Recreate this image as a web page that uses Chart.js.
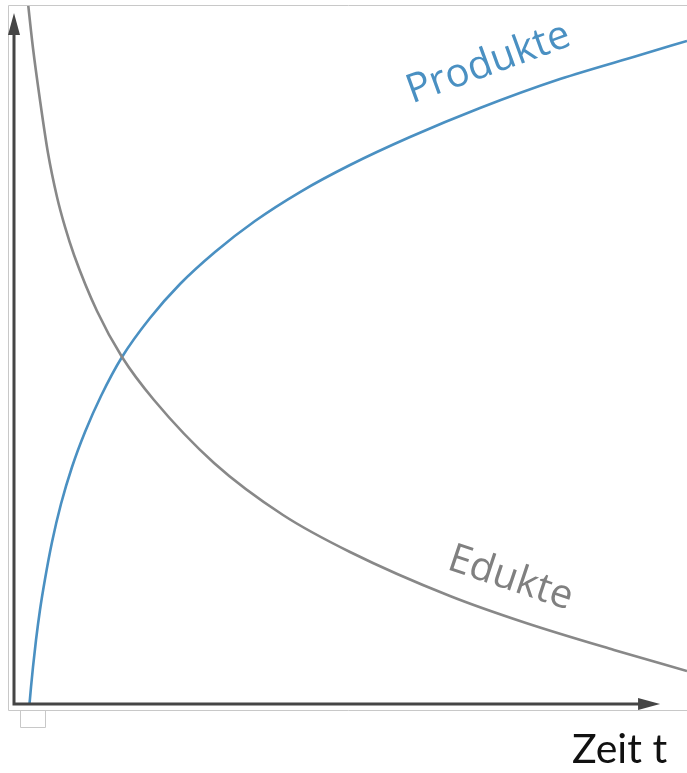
<!DOCTYPE html>
<html>
<head>
<meta charset="utf-8">
<script src="https://cdn.jsdelivr.net/npm/chart.js@4.4.1/dist/chart.umd.min.js"></script>
<style>
  body { margin: 0; background: #fff; }
  #wrap { width: 687px; height: 773px; }
</style>
</head>
<body>
<div id="wrap"><canvas id="myChart" width="687" height="773"></canvas></div>
<script>
// Zeit t (0..100) und Konzentration (0..100)
var produkteT = [2.30, 2.53, 2.82, 3.27, 3.86, 4.61, 5.65, 6.98, 8.62, 10.55, 12.93, 16.05, 20.21,
                 24.67, 29.87, 35.81, 42.50, 49.93, 58.84, 69.24, 81.13, 93.02, 100];
var produkteV = [0, 2.44, 5.30, 9.17, 13.47, 17.91, 23.21, 28.65, 33.95, 38.97, 44.13, 49.71, 55.30,
                 60.17, 64.76, 69.20, 73.35, 77.22, 81.23, 85.39, 89.54, 92.98, 94.99];

var eduktT = [1.93, 2.08, 2.82, 3.86, 5.05, 6.39, 7.58, 8.92, 12.33, 16.05, 20.80, 29.72, 39.97, 49.93, 64.78, 76.08, 89.15, 100];
var eduktV = [101.86, 100.43, 93.98, 86.53, 78.94, 72.64, 68.34, 64.33, 56.30, 49.71, 43.55, 34.53, 27.08, 21.78, 15.47, 11.60, 7.74, 4.73];

var axisMax = [96, 99]; // Pfeilspitzen x / y
var labelTexts = ["Produkte", "Edukte", "Zeit t"];

function toPoints(t, v) {
  var pts = [];
  for (var i = 0; i < t.length; i++) pts.push({x: t[i], y: v[i]});
  return pts;
}

var decoPlugin = {
  id: "deco",
  beforeDatasetsDraw: function(chart) {
    var ctx = chart.ctx;
    var xs = chart.scales.x, ys = chart.scales.y;
    var x0 = xs.getPixelForValue(0), y0 = ys.getPixelForValue(0);
    ctx.save();
    // heller Rahmen
    ctx.strokeStyle = "#c8c8c8";
    ctx.lineWidth = 1;
    ctx.beginPath();
    ctx.moveTo(700, 5.5);
    ctx.lineTo(x0 - 5.5, 5.5);
    ctx.lineTo(x0 - 5.5, y0 + 6.5);
    ctx.lineTo(700, y0 + 6.5);
    ctx.stroke();
    // kleiner Reiter
    ctx.beginPath();
    ctx.moveTo(x0 + 6.5, y0 + 6.5);
    ctx.lineTo(x0 + 6.5, y0 + 23.5);
    ctx.lineTo(x0 + 31.5, y0 + 23.5);
    ctx.lineTo(x0 + 31.5, y0 + 6.5);
    ctx.stroke();
    ctx.restore();
  },
  afterDatasetsDraw: function(chart) {
    var ctx = chart.ctx;
    var xs = chart.scales.x, ys = chart.scales.y;
    var x0 = xs.getPixelForValue(0), y0 = ys.getPixelForValue(0);
    var xEnd = xs.getPixelForValue(axisMax[0]);
    var yEnd = ys.getPixelForValue(axisMax[1]);
    ctx.save();
    ctx.strokeStyle = "#454545";
    ctx.fillStyle = "#454545";
    ctx.lineWidth = 3;
    ctx.beginPath();
    ctx.moveTo(x0, y0 + 1.5);
    ctx.lineTo(x0, yEnd + 18);
    ctx.moveTo(x0 - 1.5, y0);
    ctx.lineTo(xEnd - 18, y0);
    ctx.stroke();
    // Pfeilspitzen
    ctx.beginPath();
    ctx.moveTo(x0, yEnd);
    ctx.lineTo(x0 - 6, yEnd + 22);
    ctx.lineTo(x0 + 6, yEnd + 22);
    ctx.closePath();
    ctx.fill();
    ctx.beginPath();
    ctx.moveTo(xEnd, y0);
    ctx.lineTo(xEnd - 22, y0 - 6);
    ctx.lineTo(xEnd - 22, y0 + 6);
    ctx.closePath();
    ctx.fill();

    // Beschriftungen
    ctx.textAlign = "center";
    ctx.textBaseline = "alphabetic";
    ctx.font = "40px 'Open Sans'";
    ctx.fillStyle = "#4a90c2";
    ctx.save();
    ctx.translate(488, 62);
    ctx.rotate(-20 * Math.PI / 180);
    ctx.fillText(labelTexts[0], 0, 13);
    ctx.restore();

    ctx.fillStyle = "#808080";
    ctx.save();
    ctx.translate(511, 577);
    ctx.rotate(18.5 * Math.PI / 180);
    ctx.fillText(labelTexts[1], 0, 13);
    ctx.restore();

    ctx.fillStyle = "#111";
    ctx.font = "41px Lato";
    ctx.textAlign = "left";
    ctx.fillText(labelTexts[2], 572, 763);
    ctx.restore();
  }
};

new Chart("myChart", {
  type: "line",
  data: {
    datasets: [{
      label: labelTexts[1],
      data: toPoints(eduktT, eduktV),
      borderColor: "#888888",
      borderWidth: 2.6,
      pointRadius: 0,
      cubicInterpolationMode: "monotone",
      fill: false
    }, {
      label: labelTexts[0],
      data: toPoints(produkteT, produkteV),
      borderColor: "#4a90c2",
      borderWidth: 2.6,
      pointRadius: 0,
      cubicInterpolationMode: "monotone",
      fill: false
    }]
  },
  options: {
    responsive: false,
    animation: false,
    layout: { padding: { left: 14, right: 0, top: 6, bottom: 69 } },
    plugins: {
      legend: { display: false },
      tooltip: { enabled: false }
    },
    scales: {
      x: { type: "linear", min: 0, max: 100, display: false },
      y: { min: 0, max: 100, display: false }
    }
  },
  plugins: [decoPlugin]
});
</script>
</body>
</html>
